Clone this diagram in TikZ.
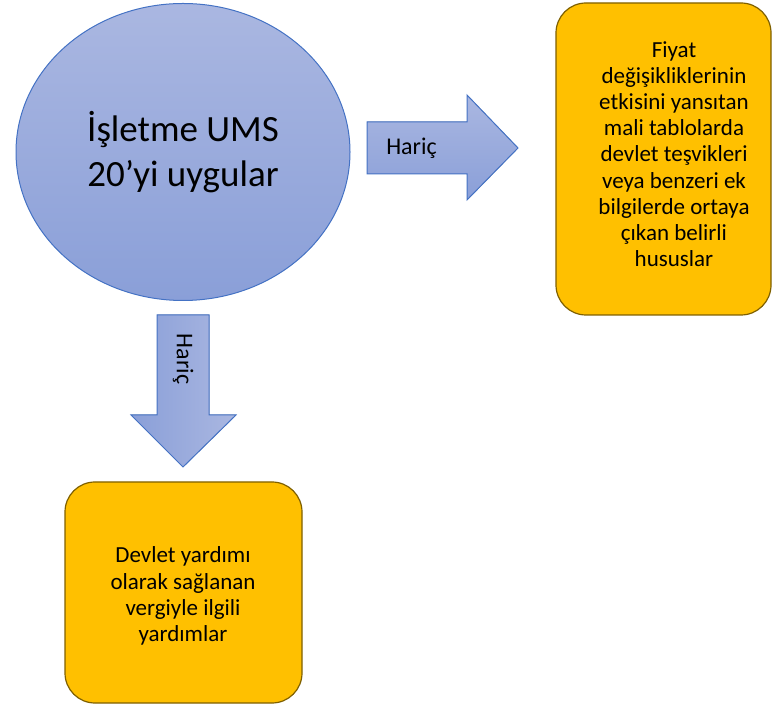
\documentclass[tikz,border=0pt]{standalone}
\usepackage{fontspec}
\setmainfont{Carlito}
\usetikzlibrary{shapes.geometric}
\definecolor{blueA}{HTML}{AAB7E1}
\definecolor{blueB}{HTML}{8A9FD8}
\definecolor{edgeblue}{HTML}{4472C4}
\definecolor{boxfill}{HTML}{FFC000}
\definecolor{boxedge}{HTML}{7F6000}
\begin{document}
\begin{tikzpicture}[x=1pt,y=1pt,
 blueshape/.style={draw=edgeblue,line width=1pt},
 goldbox/.style={draw=boxedge,line width=1.2pt,fill=boxfill,rounded corners=30pt},
 boxtext/.style={align=center,font=\fontsize{23}{26.2}\selectfont},
 arrowtext/.style={font=\fontsize{24}{28}\selectfont}]
\useasboundingbox (0,0) rectangle (775,706);
% circle
\node[ellipse,blueshape,top color=blueA,bottom color=blueB,minimum width=334,minimum height=297,inner sep=0,align=center,font=\fontsize{37}{45}\selectfont] (firm) at (183,554) {İşletme UMS\\20’yi uygular};
% right arrow
\filldraw[blueshape,top color=blueA,bottom color=blueB] (367,532) -- (467,532) -- (467,506) -- (518,558) -- (467,611) -- (467,584) -- (367,584) -- cycle;
\node[arrowtext] (haricR) at (411.5,558) {Hariç};
% down arrow
\filldraw[blueshape,left color=blueB,right color=blueA] (157,391) -- (209,391) -- (209,291) -- (236,291) -- (183,239) -- (131,291) -- (157,291) -- cycle;
\node[arrowtext,rotate=-90] (haricD) at (183,347) {Hariç};
% boxes
\draw[goldbox] (556,391) rectangle (771,703);
\node[boxtext] (exclR) at (674,552) {Fiyat\\değişikliklerinin\\etkisini yansıtan\\mali tablolarda\\devlet teşvikleri\\veya benzeri ek\\bilgilerde ortaya\\çıkan belirli\\hususlar};
\draw[goldbox] (65,3) rectangle (302,224);
\node[boxtext] (exclD) at (183,110) {Devlet yardımı\\olarak sağlanan\\vergiyle ilgili\\yardımlar};
\end{tikzpicture}
\end{document}
